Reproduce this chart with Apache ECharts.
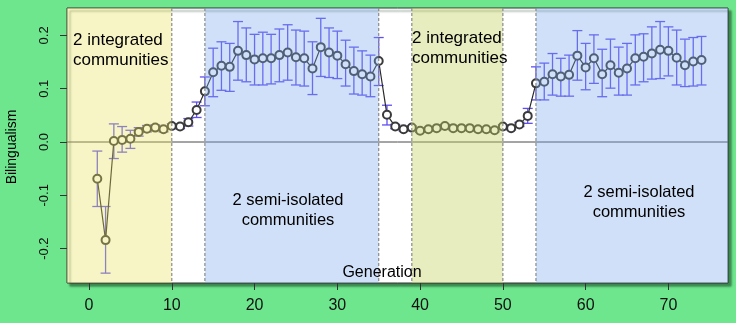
<!DOCTYPE html>
<html>
<head>
<meta charset="utf-8">
<script src="https://cdn.jsdelivr.net/npm/echarts@6/dist/echarts.min.js"></script>
<style>html,body{margin:0;padding:0;background:#6ee68e;}#c{width:736px;height:323px;}</style>
</head>
<body>
<div id="c"></div>
<script>
// ---- data ----
const generations = [1,2,3,4,5,6,7,8,9,10,11,12,13,14,15,16,17,18,19,20,21,22,23,24,25,26,27,28,29,30,31,32,33,34,35,36,37,38,39,40,41,42,43,44,45,46,47,48,49,50,51,52,53,54,55,56,57,58,59,60,61,62,63,64,65,66,67,68,69,70,71,72,73,74];
const bilingualism = [-0.069,-0.184,0.002,0.004,0.006,0.019,0.025,0.027,0.024,0.030,0.029,0.037,0.060,0.095,0.131,0.143,0.141,0.171,0.163,0.155,0.157,0.157,0.163,0.168,0.159,0.157,0.138,0.178,0.168,0.162,0.146,0.133,0.127,0.123,0.152,0.051,0.029,0.024,0.027,0.021,0.024,0.026,0.030,0.026,0.026,0.026,0.024,0.024,0.022,0.029,0.026,0.033,0.049,0.110,0.113,0.127,0.123,0.126,0.162,0.140,0.157,0.127,0.144,0.130,0.138,0.157,0.160,0.166,0.173,0.171,0.158,0.144,0.151,0.154];
const upperBound = [-0.017,-0.121,0.034,0.029,0.022,0.027,0.031,0.032,0.029,0.034,0.033,0.044,0.075,0.122,0.176,0.188,0.185,0.226,0.214,0.202,0.206,0.202,0.212,0.220,0.210,0.208,0.188,0.232,0.214,0.208,0.191,0.178,0.171,0.163,0.196,0.069,0.033,0.027,0.030,0.024,0.027,0.029,0.033,0.029,0.029,0.029,0.027,0.027,0.025,0.032,0.029,0.037,0.063,0.141,0.148,0.166,0.157,0.163,0.209,0.185,0.201,0.174,0.193,0.178,0.185,0.201,0.203,0.216,0.226,0.216,0.210,0.193,0.196,0.198];
const lowerBound = [-0.121,-0.246,-0.031,-0.019,-0.012,0.011,0.019,0.022,0.019,0.026,0.025,0.030,0.046,0.068,0.085,0.097,0.095,0.116,0.113,0.107,0.107,0.109,0.113,0.116,0.107,0.105,0.089,0.123,0.121,0.119,0.105,0.090,0.088,0.085,0.106,0.032,0.025,0.021,0.024,0.018,0.021,0.023,0.027,0.023,0.023,0.023,0.021,0.021,0.019,0.026,0.023,0.029,0.035,0.079,0.079,0.088,0.086,0.086,0.116,0.098,0.110,0.085,0.101,0.088,0.088,0.107,0.113,0.118,0.119,0.124,0.107,0.104,0.105,0.107];
const phaseBoundaries = [10,14,35,39,50,54];
const phaseTypes = ['integrated','transition','semi','transition','integrated2','transition','semi'];
const xTicks = [0,10,20,30,40,50,60,70];
const yTicks = [-0.2,-0.1,0.0,0.1,0.2];
const labelIntegrated = '2 integrated\ncommunities';
const labelSemi = '2 semi-isolated\ncommunities';

// ---- layout / style ----
const X_MIN = -2.66, X_MAX = 77.2, Y_MIN = -0.2645, Y_MAX = 0.2514;
const phaseColor = {
  integrated: 'rgba(232,226,92,0.35)',
  integrated2: 'rgba(198,210,95,0.40)',
  semi: 'rgba(120,165,235,0.35)',
  transition: 'rgba(0,0,0,0)'
};
const edges = [X_MIN].concat(phaseBoundaries).concat([X_MAX]);
const phaseData = phaseTypes.map((t,i)=>[edges[i], edges[i+1], i]);
const errData = generations.map((g,i)=>[g, upperBound[i], lowerBound[i]]);
const lineData = generations.map((g,i)=>[g, bilingualism[i]]);
const FONT = "'Liberation Sans', Arial, Helvetica, sans-serif";

const chart = echarts.init(document.getElementById('c'), null, {renderer:'canvas'});
chart.setOption({
  backgroundColor: '#6ee68e',
  animation: false,
  grid: {left:67, top:8, width:661, height:275, show:true, backgroundColor:'#ffffff',
         borderColor:'#333', borderWidth:1,
         shadowColor:'rgba(20,60,30,0.55)', shadowOffsetX:3, shadowOffsetY:3, shadowBlur:2},
  xAxis: {type:'value', min:X_MIN, max:X_MAX, position:'bottom',
    axisLine:{show:false, onZero:false},
    axisTick:{show:true, length:7, inside:false, customValues:xTicks, lineStyle:{color:'#333', width:1}},
    axisLabel:{customValues:xTicks, margin:15, color:'#111', fontSize:16, fontFamily:"'Liberation Sans Narrow', 'Liberation Sans', Arial, sans-serif"},
    splitLine:{show:false}},
  yAxis: {type:'value', min:Y_MIN, max:Y_MAX, position:'left',
    axisLine:{show:false, onZero:false},
    axisTick:{show:true, length:7, inside:false, customValues:yTicks, lineStyle:{color:'#333', width:1}},
    axisLabel:{customValues:yTicks, rotate:90, margin:16, color:'#111', fontSize:13, fontFamily:FONT,
      formatter:v=>v.toFixed(1)},
    splitLine:{show:false}},
  graphic: [
    {type:'text', left:73, top:30, z:100, style:{text:labelIntegrated, font:'17px '+FONT, fill:'#000', lineHeight:20}},
    {type:'text', left:412, top:28, z:100, style:{text:labelIntegrated, font:'17px '+FONT, fill:'#000', lineHeight:20}},
    {type:'text', x:288, y:210, z:100, style:{text:labelSemi, font:'16.5px '+FONT, fill:'#000', lineHeight:20, align:'center', verticalAlign:'middle'}},
    {type:'text', x:639, y:202, z:100, style:{text:labelSemi, font:'16.5px '+FONT, fill:'#000', lineHeight:20, align:'center', verticalAlign:'middle'}},
    {type:'text', x:382, y:273, z:100, style:{text:'Generation', font:'16px '+FONT, fill:'#000', align:'center', verticalAlign:'middle'}},
    {type:'text', x:12, y:147, rotation:Math.PI/2, z:100, style:{text:'Bilingualism', font:'14px '+FONT, fill:'#000', align:'center', verticalAlign:'middle'}}
  ],
  series: [
    { // zero line
      type:'custom', z:1, silent:true, data:[[0]],
      renderItem:(params, api)=>{
        const a = api.coord([X_MIN, api.value(0)]), b = api.coord([X_MAX, api.value(0)]);
        return {type:'line', shape:{x1:a[0], y1:a[1], x2:b[0], y2:b[1]}, style:{stroke:'#4a4a4a', lineWidth:1}};
      }},
    { // error bars
      type:'custom', z:2, silent:true, data:errData, encode:{x:0, y:[1,2]},
      renderItem:(params, api)=>{
        const x = api.value(0);
        const t = api.coord([x, api.value(1)]), b = api.coord([x, api.value(2)]);
        const h = 5, st = {stroke:'#5f4ff2', lineWidth:1.3};
        return {type:'group', children:[
          {type:'line', shape:{x1:t[0], y1:t[1], x2:b[0], y2:b[1]}, style:st},
          {type:'line', shape:{x1:t[0]-h, y1:t[1], x2:t[0]+h, y2:t[1]}, style:st},
          {type:'line', shape:{x1:b[0]-h, y1:b[1], x2:b[0]+h, y2:b[1]}, style:st}
        ]};
      }},
    { // mean line with points
      type:'line', z:3, data:lineData, symbol:'emptyCircle', symbolSize:8, showAllSymbol:true,
      lineStyle:{color:'#2a2a2a', width:1.2},
      itemStyle:{color:'#3a3a3a', borderColor:'#3a3a3a', borderWidth:1.2}},
    { // phase overlays
      type:'custom', z:10, silent:true, data:phaseData, encode:{x:[0,1]},
      renderItem:(params, api)=>{
        const x0 = api.value(0), x1 = api.value(1);
        const p0 = api.coord([x0, Y_MAX]), p1 = api.coord([x1, Y_MIN]);
        return {type:'rect', shape:{x:p0[0], y:p0[1], width:p1[0]-p0[0], height:p1[1]-p0[1]},
          style:{fill: phaseColor[phaseTypes[api.value(2)]]}};
      }},
    { // dashed boundaries
      type:'custom', z:11, silent:true, data:phaseBoundaries.map(v=>[v]),
      renderItem:(params, api)=>{
        const a = api.coord([api.value(0), Y_MAX]), b = api.coord([api.value(0), Y_MIN]);
        return {type:'line', shape:{x1:a[0], y1:a[1], x2:b[0], y2:b[1]},
          style:{stroke:'#8a8a8a', lineWidth:1.2, lineDash:[3,2]}};
      }}
  ]
});
</script>
</body>
</html>
